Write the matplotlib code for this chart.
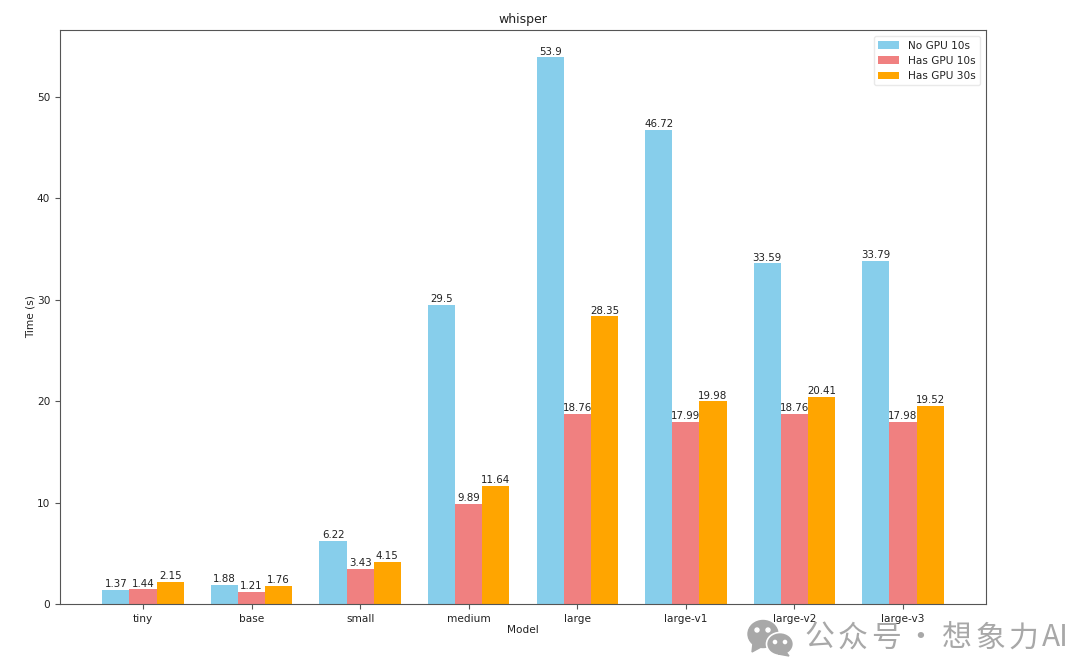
import matplotlib

matplotlib.use("Agg", force=True)
import matplotlib.pyplot as plt
from matplotlib.patches import Circle, Ellipse, Polygon
import numpy as np

models = ["tiny", "base", "small", "medium", "large", "large-v1", "large-v2", "large-v3"]
no_gpu_10s = [1.37, 1.88, 6.22, 29.5, 53.9, 46.72, 33.59, 33.79]
has_gpu_10s = [1.44, 1.21, 3.43, 9.89, 18.76, 17.99, 18.76, 17.98]
has_gpu_30s = [2.15, 1.76, 4.15, 11.64, 28.35, 19.98, 20.41, 19.52]

TEXT = "#222222"
EDGE = "#555555"

plt.rcParams["font.family"] = ["DejaVu Sans"]
plt.rcParams["font.size"] = 7.6

fig = plt.figure(figsize=(10.8, 6.61), dpi=100)
ax = fig.add_axes([60 / 1080, 1 - 604 / 661, 926 / 1080, 574 / 661])

x = np.arange(len(models))
width = 0.25
series = [
    (no_gpu_10s, "No GPU 10s", "skyblue", -width),
    (has_gpu_10s, "Has GPU 10s", "lightcoral", 0),
    (has_gpu_30s, "Has GPU 30s", "orange", width),
]
for values, label, color, offset in series:
    bars = ax.bar(x + offset, values, width, color=color, label=label)
    ax.bar_label(bars, labels=[str(v) for v in values], padding=0.6, fontsize=7.4, color=TEXT)

ax.set_title("whisper", fontsize=9, color=TEXT, pad=5)
ax.set_xlabel("Model", color=TEXT, labelpad=1)
ax.set_ylabel("Time (s)", color=TEXT, labelpad=1)
ax.set_xticks(x, models)
ax.set_xlim(-0.7645, 7.7645)
ax.set_ylim(0, 56.6)
ax.tick_params(colors=TEXT, labelsize=7.6, color=EDGE, length=3.5, width=0.8)
for spine in ax.spines.values():
    spine.set_color(EDGE)
ax.legend(loc="upper right", fontsize=7.6, labelcolor=TEXT, borderaxespad=0.6,
          labelspacing=0.5, edgecolor="#e4e4e4")

# watermark in the bottom corner
GREY = "#a8a8a8"
CJK = ["Noto Sans CJK SC", "DejaVu Sans"]
mark = fig.add_axes([0, 0, 1, 1], facecolor="none")
mark.set_xlim(0, 1080)
mark.set_ylim(661, 0)
mark.axis("off")
mark.add_patch(Ellipse((763, 634), 30, 27, color=GREY))
mark.add_patch(Polygon([[753, 643], [752, 652], [763, 646]], color=GREY))
mark.add_patch(Ellipse((780, 644), 27, 23, facecolor=GREY, edgecolor="white", lw=1.2))
mark.add_patch(Polygon([[786, 652], [789, 656], [778, 654]], color=GREY))
for cx, cy, r in [(757, 630, 2), (768, 630, 2), (775, 642, 1.6), (785, 642, 1.6)]:
    mark.add_patch(Circle((cx, cy), r, color="white"))
for px, word in [(804, "公"), (838, "众"), (871, "号"), (941, "想"), (975, "象"), (1008, "力"), (1042, "AI")]:
    mark.text(px, 638, word, fontsize=21.5, color=GREY, va="center", ha="left", family=CJK)
mark.text(920, 638, "·", fontsize=21.5, color=GREY, va="center", ha="center", family=CJK)

fig.savefig("out.png", dpi=100)
plt.close(fig)
